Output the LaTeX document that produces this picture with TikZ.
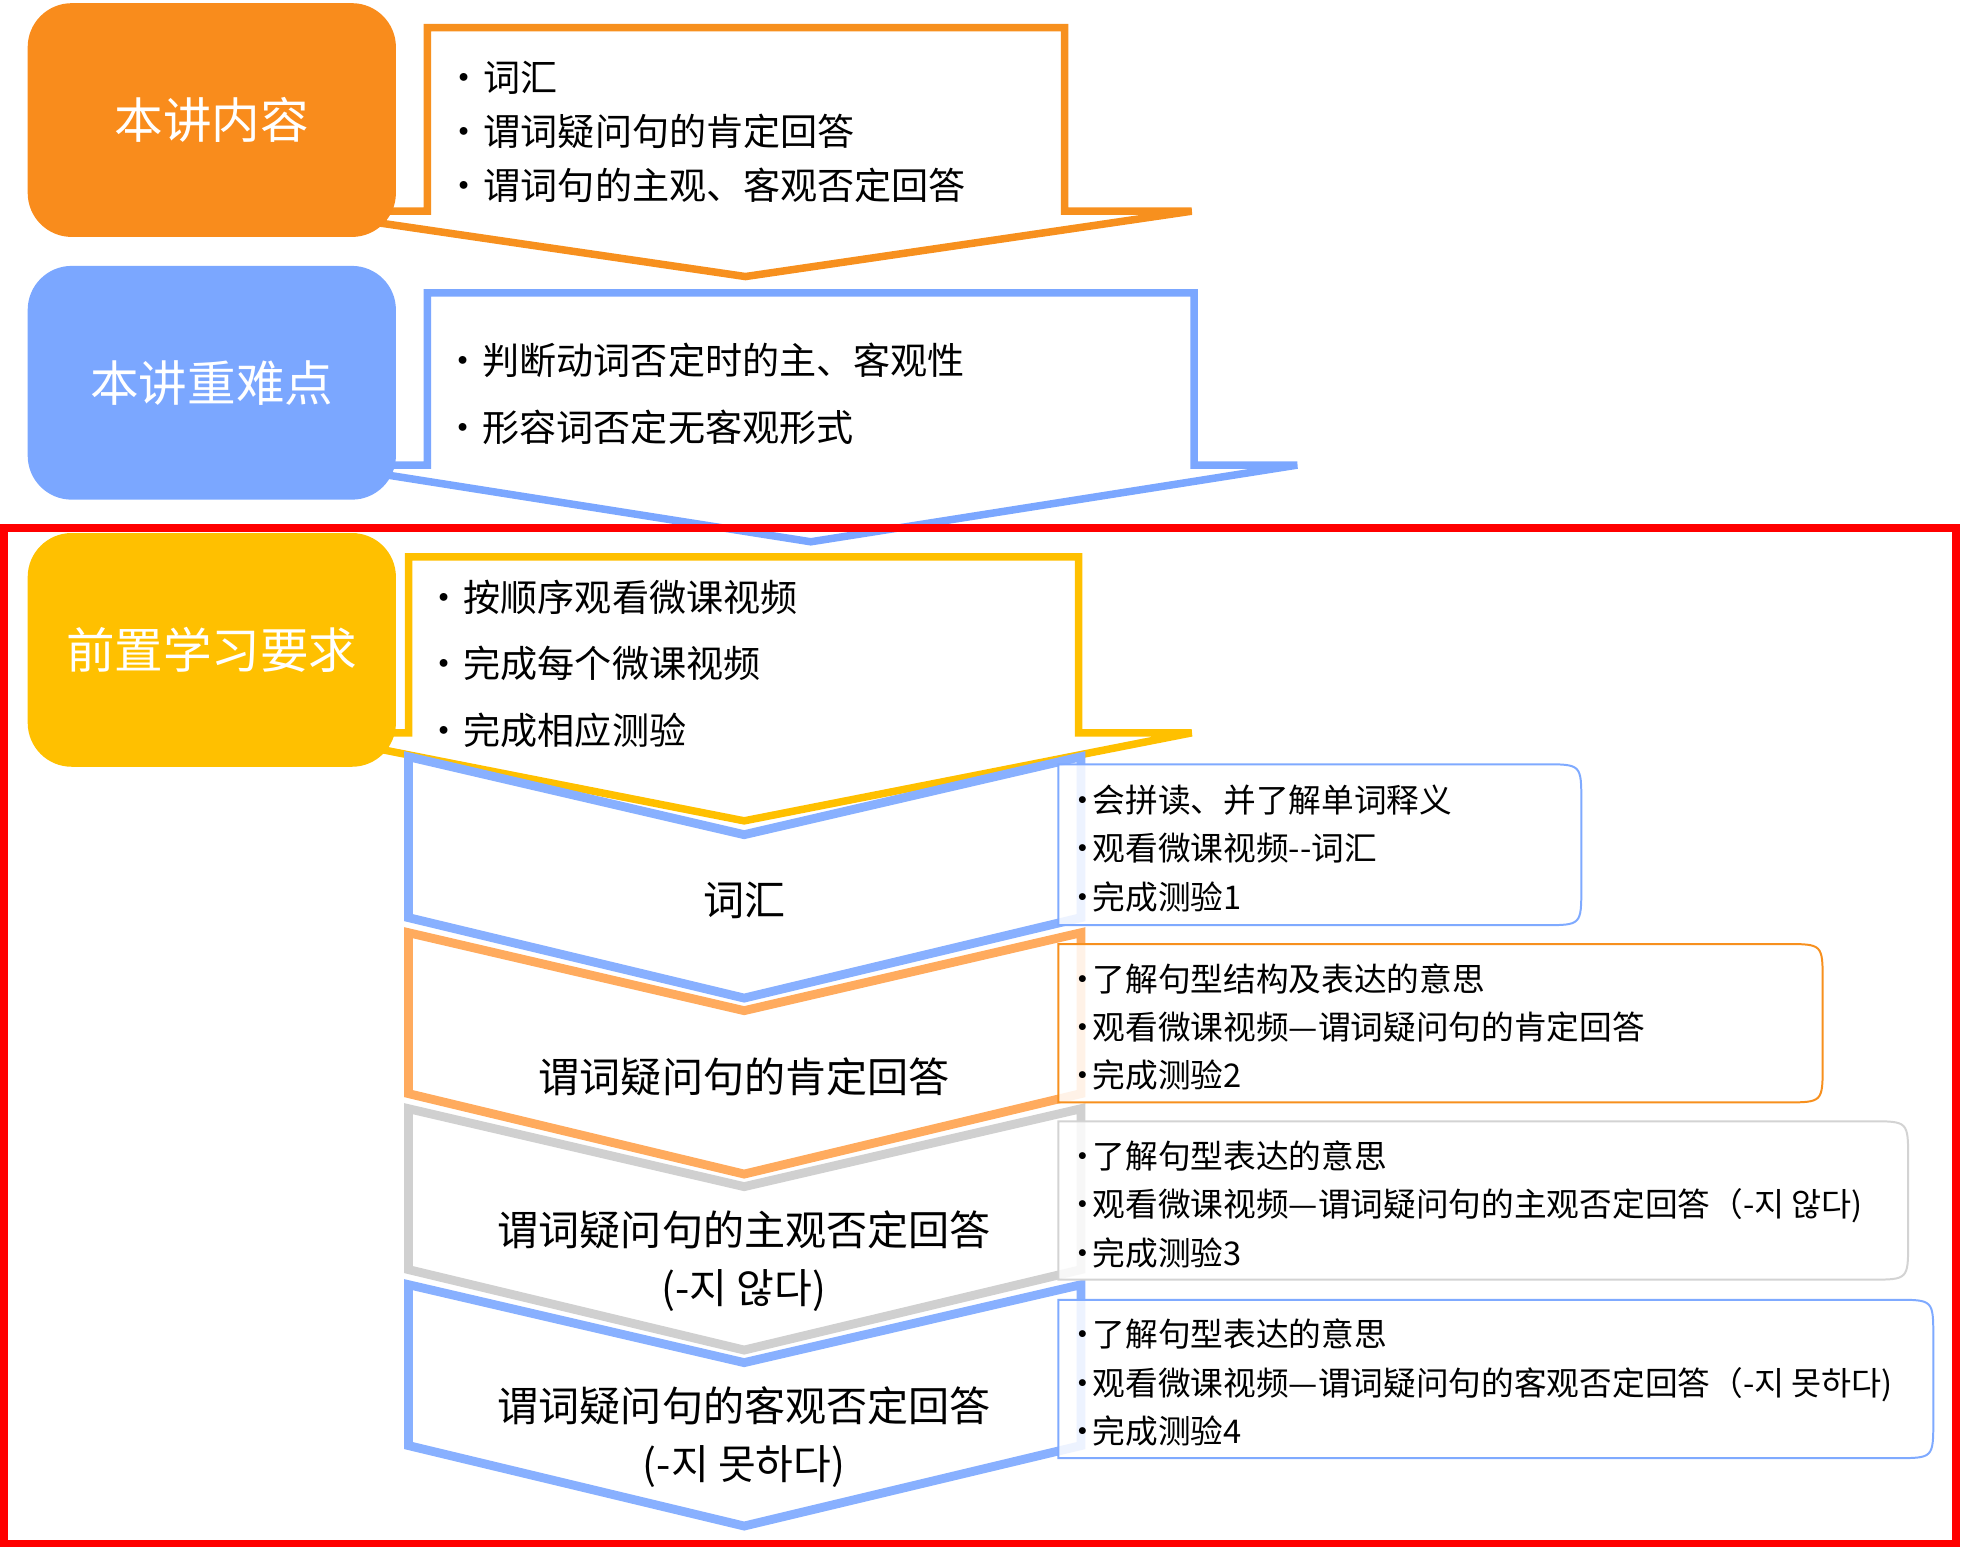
\documentclass[tikz,border=0pt]{standalone}
\usepackage{fontspec}
\setmainfont{Noto Sans CJK SC}
\usepackage{tikz}
\usetikzlibrary{positioning}
\definecolor{tagorange}{HTML}{F98C1C}
\definecolor{tagblue}{HTML}{7BA7FF}
\definecolor{tagyellow}{HTML}{FFC000}
\definecolor{arroworange}{HTML}{F7901E}
\definecolor{arrowblue}{HTML}{7BA7FF}
\definecolor{chevblue}{HTML}{88B0FF}
\definecolor{chevorange}{HTML}{FFAB5E}
\definecolor{chevgray}{HTML}{D0D0D0}
\definecolor{boxblue}{HTML}{7FAAFF}
\definecolor{boxorange}{HTML}{F7901E}
\definecolor{boxgray}{HTML}{D3D3D3}
\definecolor{framered}{HTML}{FF0000}
\tikzset{
  tagbox/.style={
    rectangle, rounded corners=0.7cm, minimum width=5.86cm,
    minimum height=3.72cm, text=white, inner sep=0pt,
    font=\fontsize{22}{26}\selectfont
  },
  arrowshape/.style={fill=white, line width=3.4pt},
  chevshape/.style={fill=white, line width=4pt},
  taskbox/.style={fill=white, fill opacity=0.85, line width=0.9pt},
  listtext/.style={
    anchor=west, align=left, inner sep=0pt,
    font=\fontsize{16.8}{24.5}\selectfont
  },
  chevtext/.style={
    align=center, inner sep=0pt, font=\fontsize{18.6}{26.2}\selectfont
  },
  tasktext/.style={
    anchor=west, align=left, inner sep=0pt,
    font=\fontsize{14.8}{21.9}\selectfont
  },
  redframe/.style={draw=framered, line width=3.4pt}
}
\newcommand{\bul}{\makebox[0.61cm][l]{•}}
\newcommand{\sbul}{\makebox[0.42cm][l]{•}}
% box with square left corners and rounded right corners
\newcommand{\taskframe}[5]{%
  \draw[taskbox, draw=#5] (#1,#2) -- ({#3-30},#2) .. controls (#3,#2) .. (#3,{#2+30})
    -- (#3,{#4-30}) .. controls (#3,#4) .. ({#3-30},#4) -- (#1,#4) -- cycle;}

\begin{document}
\begin{tikzpicture}[x=0.02cm, y=-0.02cm]
\useasboundingbox (0,0) rectangle (1568,1231);

% ── Down arrows (drawn under the tag boxes) ──────────────────────────────────
\draw[arrowshape, draw=arroworange] (340,22) -- (847,22) -- (847,168) -- (948,168)
  -- (593,220) -- (238,168) -- (340,168) -- cycle;
\draw[arrowshape, draw=arrowblue] (340,233) -- (950,233) -- (950,370) -- (1032,370)
  -- (645,431) -- (258,370) -- (340,370) -- cycle;
\draw[arrowshape, draw=tagyellow] (325,443) -- (858,443) -- (858,583) -- (948,583)
  -- (592,653) -- (236,583) -- (325,583) -- cycle;

% ── Tag boxes on the left ────────────────────────────────────────────────────
\node[tagbox, fill=tagorange] (content)  at (168.5,95.5)  {本讲内容};
\node[tagbox, fill=tagblue]   (keypts)   at (168.5,304.5) {本讲重难点};
\node[tagbox, fill=tagyellow] (prereq)   at (168.5,517)   {前置学习要求};

% ── Bullet lists inside the arrows ───────────────────────────────────────────
\node[listtext] (contentlist) at (354,105)
  {\bul 词汇\\ \bul 谓词疑问句的肯定回答\\ \bul 谓词句的主观、客观否定回答};
\node[listtext, font=\fontsize{16.8}{30.2}\selectfont] (keyptlist) at (353,313.5)
  {\bul 判断动词否定时的主、客观性\\ \bul 形容词否定无客观形式};
\node[listtext, font=\fontsize{16.8}{30.2}\selectfont] (prereqlist) at (338,528)
  {\bul 按顺序观看微课视频\\ \bul 完成每个微课视频\\ \bul 完成相应测验};

% ── Chevron steps ────────────────────────────────────────────────────────────
\foreach \t/\c in {602/chevblue, 742/chevorange, 882/chevgray, 1022/chevblue} {
  \draw[chevshape, draw=\c] (325,\t) -- (592,\t+62) -- (860,\t) -- (860,\t+128)
    -- (592,\t+192) -- (325,\t+128) -- cycle;
}
\node[chevtext] (vocab)   at (592,716)  {词汇};
\node[chevtext] (affirm)  at (592,857)  {谓词疑问句的肯定回答};
\node[chevtext] (subjneg) at (592,1003) {谓词疑问句的主观否定回答\\(-지 않다)};
\node[chevtext] (objneg)  at (592,1143) {谓词疑问句的客观否定回答\\(-지 못하다)};

% ── Task boxes on the right ──────────────────────────────────────────────────
\taskframe{842}{608}{1258}{736}{boxblue}
\taskframe{842}{751}{1450}{877}{boxorange}
\taskframe{842}{892}{1518}{1018}{boxgray}
\taskframe{842}{1034}{1538}{1160}{boxblue}

\node[tasktext] (task1) at (848,675)
  {\sbul 会拼读、并了解单词释义\\ \sbul 观看微课视频{-}{-}词汇\\ \sbul 完成测验1};
\node[tasktext] (task2) at (848,817)
  {\sbul 了解句型结构及表达的意思\\ \sbul 观看微课视频—谓词疑问句的肯定回答\\ \sbul 完成测验2};
\node[tasktext] (task3) at (848,958)
  {\sbul 了解句型表达的意思\\ \sbul 观看微课视频—谓词疑问句的主观否定回答（-지 않다)\\ \sbul 完成测验3};
\node[tasktext] (task4) at (848,1100)
  {\sbul 了解句型表达的意思\\ \sbul 观看微课视频—谓词疑问句的客观否定回答（-지 못하다)\\ \sbul 完成测验4};

% ── Red frame round the study part ───────────────────────────────────────────
\draw[redframe] (3,420) rectangle (1556,1228);

\end{tikzpicture}
\end{document}
